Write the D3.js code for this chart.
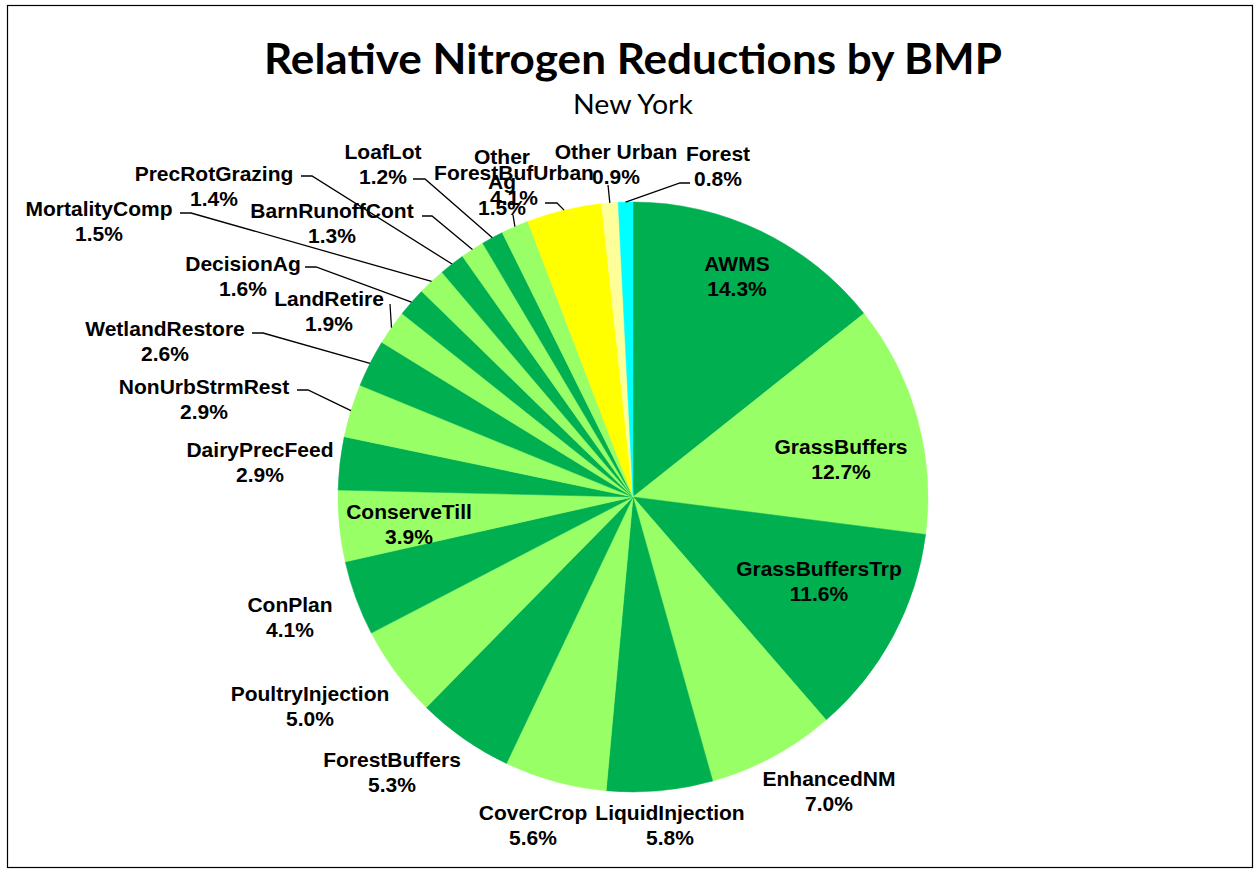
<!DOCTYPE html>
<html>
<head>
<meta charset="utf-8">
<script src="https://cdn.jsdelivr.net/npm/d3@7"></script>
<style>
  body { margin: 0; background: #fff; }
  svg { display: block; }
</style>
</head>
<body>
<svg id="chart" width="1255" height="869"></svg>
<script>
// Share of nitrogen reduction by best management practice, clockwise from 12 o'clock
const categories = [
  "AWMS", "GrassBuffers", "GrassBuffersTrp", "EnhancedNM", "LiquidInjection",
  "CoverCrop", "ForestBuffers", "PoultryInjection", "ConPlan", "ConserveTill",
  "DairyPrecFeed", "NonUrbStrmRest", "WetlandRestore", "LandRetire", "DecisionAg",
  "MortalityComp", "PrecRotGrazing", "BarnRunoffCont", "LoafLot", "Other Ag",
  "ForestBufUrban", "Other Urban", "Forest"
];
const shares = [
  14.3, 12.7, 11.6, 7.0, 5.8,
  5.6, 5.3, 5.0, 4.1, 3.9,
  2.9, 2.9, 2.6, 1.9, 1.6,
  1.5, 1.4, 1.3, 1.2, 1.5,
  4.1, 0.9, 0.8
];
// Land-use sector of each practice
const sectors = [
  "ag", "ag", "ag", "ag", "ag",
  "ag", "ag", "ag", "ag", "ag",
  "ag", "ag", "ag", "ag", "ag",
  "ag", "ag", "ag", "ag", "ag",
  "urban", "urbanOther", "forest"
];
const chartTitle = "Relative Nitrogen Reductions by BMP";
const chartSubtitle = "New York";

// ---- layout ----
const W = 1255, H = 869;
const cx = 633, cy = 497, R = 295;
const lineGap = 25.5;

// Label text placement (centre x, centre y of the first line) and leader lines
const labelLayout = {
  "AWMS":            { x: 737, y: 263 },
  "GrassBuffers":    { x: 841, y: 446 },
  "GrassBuffersTrp": { x: 819, y: 568 },
  "EnhancedNM":      { x: 829, y: 778 },
  "LiquidInjection": { x: 670, y: 812 },
  "CoverCrop":       { x: 533, y: 812 },
  "ForestBuffers":   { x: 392, y: 759 },
  "PoultryInjection":{ x: 310, y: 693 },
  "ConPlan":         { x: 290, y: 604 },
  "ConserveTill":    { x: 409, y: 511 },
  "DairyPrecFeed":   { x: 260, y: 449 },
  "NonUrbStrmRest":  { x: 204, y: 386, leader: [[297, 390], [308, 390]] },
  "WetlandRestore":  { x: 165, y: 328, leader: [[252, 333], [263, 333]] },
  "LandRetire":      { x: 329, y: 298, leader: [[390, 304]] },
  "DecisionAg":      { x: 243, y: 263, leader: [[305, 267], [316, 267]] },
  "MortalityComp":   { x: 99,  y: 208, leader: [[180, 213], [191, 213]] },
  "PrecRotGrazing":  { x: 214, y: 173, leader: [[301, 176], [312, 176]] },
  "BarnRunoffCont":  { x: 332, y: 210, leader: [[422, 216], [432, 216]] },
  "LoafLot":         { x: 383, y: 151, leader: [[413, 179], [425, 179]] },
  "Other Ag":        { x: 502, y: 156, wrap: true, leader: [[513, 215]] },
  "ForestBufUrban":  { x: 514, y: 172, leader: [[545, 203], [557, 203]] },
  "Other Urban":     { x: 616, y: 151, leader: [[608, 185]] },
  "Forest":          { x: 718, y: 153, leader: [[690, 183], [680, 183]] }
};

const agDark = "#00B050", agLight = "#99FF66";
const sectorColour = { urban: "#FFFF00", urbanOther: "#FFFF99", forest: "#00FFFF" };
function sliceColour(i) {
  const s = sectors[i];
  if (s === "ag") return i % 2 === 0 ? agDark : agLight;
  return sectorColour[s];
}

const svg = d3.select("#chart");

// chart frame
svg.append("rect")
  .attr("x", 7.5).attr("y", 5.5)
  .attr("width", 1245).attr("height", 862)
  .attr("fill", "#fff").attr("stroke", "#000").attr("stroke-width", 1.2);

// title
const title = svg.append("text")
  .attr("x", cx).attr("y", 74)
  .attr("text-anchor", "middle")
  .attr("font-family", "Lato, 'Open Sans', sans-serif")
  .attr("font-weight", 700)
  .attr("font-size", 42)
  .attr("fill", "#000")
  .text(chartTitle);
const tw = title.node().getComputedTextLength();
if (Math.abs(tw - 738) > 4) title.attr("textLength", 738).attr("lengthAdjust", "spacingAndGlyphs");

const sub = svg.append("text")
  .attr("x", cx).attr("y", 114)
  .attr("text-anchor", "middle")
  .attr("font-family", "Lato, 'Open Sans', sans-serif")
  .attr("font-size", 27)
  .attr("fill", "#000")
  .text(chartSubtitle);
const sw = sub.node().getComputedTextLength();
if (Math.abs(sw - 120) > 3) sub.attr("textLength", 120).attr("lengthAdjust", "spacingAndGlyphs");

// pie
const data = categories.map((name, i) => ({ name, value: shares[i], i }));
const pie = d3.pie().sort(null).value(d => d.value);
const arcs = pie(data);
const arc = d3.arc().innerRadius(0).outerRadius(R);
const rim = d3.arc().innerRadius(R).outerRadius(R);

const g = svg.append("g").attr("transform", `translate(${cx},${cy})`);
g.selectAll("path.slice")
  .data(arcs)
  .join("path")
  .attr("class", "slice")
  .attr("d", arc)
  .attr("fill", d => sliceColour(d.data.i))
  .attr("stroke", d => sliceColour(d.data.i))
  .attr("stroke-width", 0.5);

// leader lines: from the label, along a short stub, to the rim at the slice's mid-angle
const leaders = svg.append("g")
  .attr("fill", "none").attr("stroke", "#000").attr("stroke-width", 1.3);
arcs.forEach(d => {
  const L = labelLayout[d.data.name];
  if (!L || !L.leader) return;
  const [rx, ry] = rim.centroid(d);
  const pts = L.leader.concat([[cx + rx, cy + ry]]);
  leaders.append("path").attr("d", d3.line()(pts));
});

// data labels
const labels = svg.append("g")
  .attr("font-family", "'Liberation Sans', Arial, sans-serif")
  .attr("font-weight", 700)
  .attr("font-size", 21)
  .attr("fill", "#000")
  .attr("text-anchor", "middle");
arcs.forEach(d => {
  const L = labelLayout[d.data.name];
  const lines = L.wrap ? d.data.name.split(" ") : [d.data.name];
  lines.push(d3.format(".1f")(d.data.value) + "%");
  const t = labels.append("text");
  lines.forEach((s, k) => {
    t.append("tspan")
      .attr("x", L.x)
      .attr("y", L.y + 7.5 + k * lineGap)
      .text(s);
  });
});
</script>
</body>
</html>
